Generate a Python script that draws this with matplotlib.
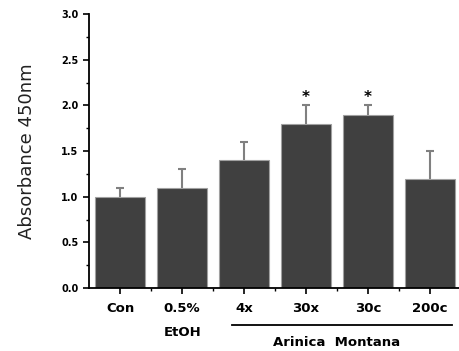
import numpy as np
import matplotlib.pyplot as plt
from matplotlib.ticker import MultipleLocator

labels = ['Con', '0.5%', '4x', '30x', '30c', '200c']
means = [1.0, 1.1, 1.4, 1.8, 1.9, 1.2]
errs = [0.1, 0.2, 0.2, 0.2, 0.1, 0.3]
stars = ['', '', '', '*', '*', '']

plt.rcParams['font.family'] = ['DejaVu Sans']

fig = plt.figure(figsize=(4.59, 3.51), dpi=100)
ax = fig.add_axes([0.194, 0.179, 0.806, 0.781])

x = np.arange(len(labels))
ax.bar(x, means, width=0.8, color='#404040', edgecolor='#a0a0a0', linewidth=0.8, zorder=2)
# symmetric error bars drawn behind the bars, so only the upper half shows
ax.errorbar(x, means, yerr=errs, fmt='none',
            ecolor='#808080', elinewidth=1.5, capsize=3, capthick=1.5, zorder=1)
for xi, m, e, s in zip(x, means, errs, stars):
    if s:
        ax.text(xi, m + e + 0.01, s, ha='center', va='bottom', fontsize=11, fontweight='bold')

ax.set_xlim(-0.5, 5.47)
ax.set_ylim(0, 3.0)
ax.set_xticks(x)
ax.set_xticklabels(labels, fontsize=9.5, fontweight='bold')
ax.set_xticks(x[:-1] + 0.5, minor=True)
yt = np.arange(0, 3.01, 0.5)
ax.set_yticks(yt)
ax.set_yticklabels([f'{v:.1f}' for v in yt], fontsize=7, fontweight='bold')
ax.yaxis.set_minor_locator(MultipleLocator(0.25))
ax.tick_params(axis='both', which='major', direction='out', length=4, width=1.2)
ax.tick_params(axis='both', which='minor', direction='out', length=2, width=1)
ax.tick_params(axis='x', pad=6)
for side in ['top', 'right']:
    ax.spines[side].set_visible(False)
for side in ['left', 'bottom']:
    ax.spines[side].set_linewidth(1.3)

ax.set_ylabel('Absorbance 450nm', fontsize=13, labelpad=18, color='#222222')

fig.text(183 / 459, 1 - 333 / 351, 'EtOH', ha='center', va='center', fontsize=9.5, fontweight='bold')
fig.add_artist(plt.Line2D([232 / 459, 452 / 459], [1 - 325 / 351, 1 - 325 / 351], color='black', lw=1.3))
fig.text(337 / 459, 1 - 342 / 351, 'Arinica  Montana', ha='center', va='center', fontsize=9.5, fontweight='bold')

fig.savefig('out.png', dpi=100)
